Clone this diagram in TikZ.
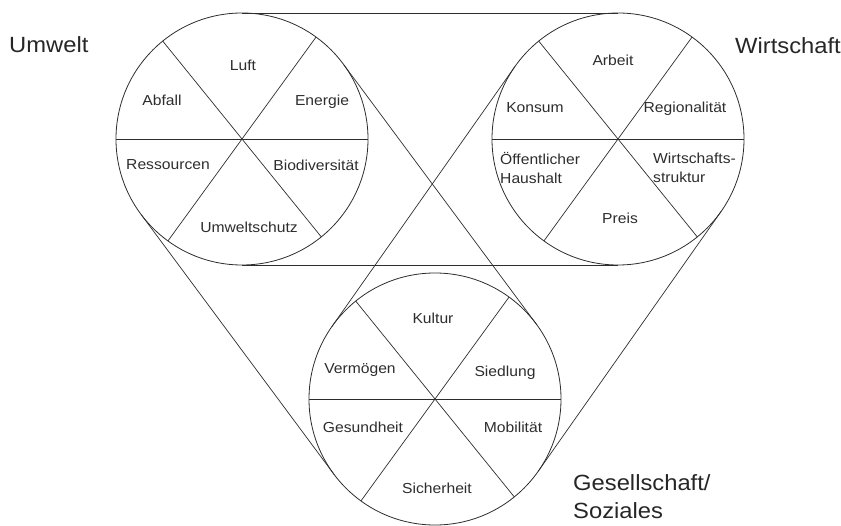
\documentclass[tikz,border=0pt]{standalone}
\usepackage{fontspec}
\setmainfont[FakeStretch=1.08]{Liberation Sans}
\usetikzlibrary{positioning}
\definecolor{inkgray}{RGB}{45,45,45}

\begin{document}
\begin{tikzpicture}[x=1pt, y=-1pt,
        pillar/.style={circle, draw=inkgray, line width=0.8pt, minimum size=252pt, inner sep=0pt, outer sep=0pt},
        link/.style={draw=inkgray, line width=0.7pt},
        topic/.style={font=\fontsize{14.5}{19}\selectfont, text=inkgray, inner sep=0pt, align=left},
        head/.style={font=\fontsize{22}{28}\selectfont, text=black!85, inner sep=0pt, align=left}]
        \useasboundingbox (0,0) rectangle (841,526);
        % the three circles
        \node[pillar] (umw) at (242,139) {};
        \node[pillar] (wir) at (618,139) {};
        \node[pillar] (ges) at (435,399) {};
        % outer tangents between each pair
        \draw[link] (umw.north) -- (wir.north);
        \draw[link] (umw.south) -- (wir.south);
        \draw[link] (umw.36.5) -- (ges.36.5);
        \draw[link] (umw.-143.5) -- (ges.-143.5);
        \draw[link] (wir.145) -- (ges.145);
        \draw[link] (wir.-35) -- (ges.-35);
        % six sectors in every circle
        \foreach \c in {umw,wir,ges}{
          \draw[link] (\c.west) -- (\c.east);
          \draw[link] (\c.54) -- (\c.234);
          \draw[link] (\c.129) -- (\c.309);
        }
        % Umwelt
        \node[topic] (luft) at (243,65) {Luft};
        \node[topic] (abfall) at (162,100) {Abfall};
        \node[topic] (energie) at (322,102) {Energie};
        \node[topic] (ress) at (168,165) {Ressourcen};
        \node[topic] (bio) at (316,165) {Biodiversität};
        \node[topic] (uschutz) at (249,227) {Umweltschutz};
        % Wirtschaft
        \node[topic] (arbeit) at (613,60) {Arbeit};
        \node[topic] (konsum) at (535,108) {Konsum};
        \node[topic] (region) at (685,109) {Regionalität};
        \node[topic, anchor=west] (haushalt) at (500,168) {Öffentlicher\\Haushalt};
        \node[topic, anchor=west] (struktur) at (653,168) {Wirtschafts-\\struktur};
        \node[topic] (preis) at (620,218) {Preis};
        % Gesellschaft
        \node[topic] (kultur) at (433,318) {Kultur};
        \node[topic] (verm) at (360,370) {Vermögen};
        \node[topic] (sied) at (505,373) {Siedlung};
        \node[topic] (gesund) at (363,427) {Gesundheit};
        \node[topic] (mobil) at (513,427) {Mobilität};
        \node[topic] (sicher) at (437,488) {Sicherheit};
        % headings
        \node[head, anchor=west] (hUmw) at (9,45) {Umwelt};
        \node[head, anchor=west] (hWir) at (735,46) {Wirtschaft};
        \node[head, anchor=west] (hGes) at (573,497) {Gesellschaft/\\Soziales};
      \end{tikzpicture}
\end{document}
